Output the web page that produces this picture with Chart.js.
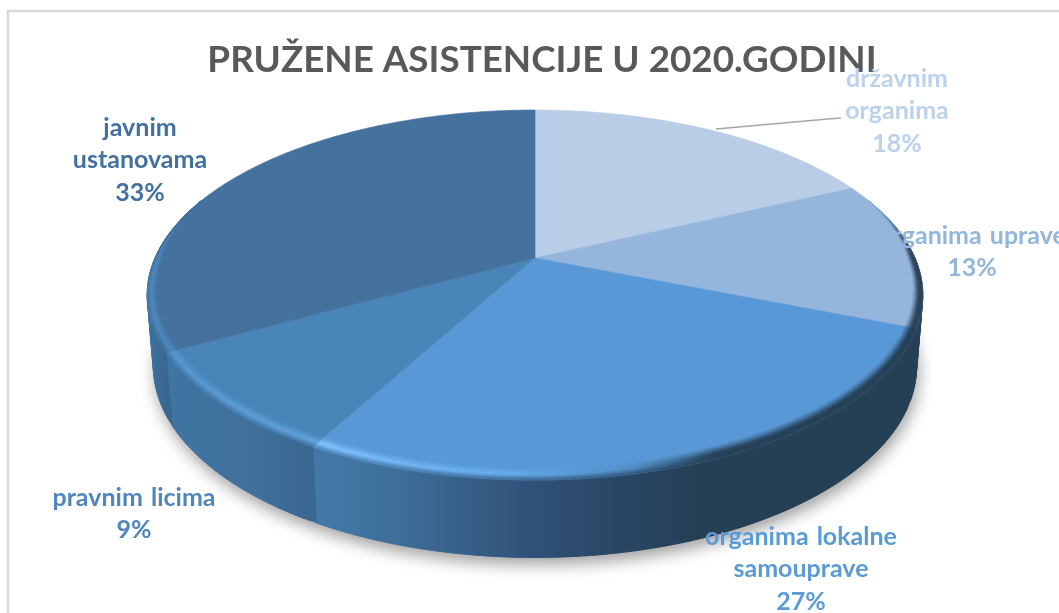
<!DOCTYPE html>
<html><head><meta charset="utf-8">
<style>html,body{margin:0;padding:0;background:#fff;overflow:hidden}canvas{display:block;filter:blur(.4px)}</style>
<script src="https://cdn.jsdelivr.net/npm/chart.js@4"></script>
</head><body><canvas id="c" width="1059" height="613"></canvas>
<script>
const titleText = 'PRUŽENE ASISTENCIJE U 2020.GODINI';
const categories = ['državnim organima','organima uprave','organima lokalne samouprave','pravnim licima','javnim ustanovama'];
const values = [18,13,27,9,33];
const faceColors = ['#bacde6','#94b5dc','#5898d6','#4a85b9','#44719e'];
const textColors = ['#bcd1ec','#93b6dd','#5b9bd5','#4f86bb','#43719f'];
const labelLines = [['državnim','organima'],['organima uprave'],['organima lokalne','samouprave'],['pravnim licima'],['javnim','ustanovama']];
const labelPos = [[897,78],[972,235],[801,536],[134,497],[140,127]];
const wallStops = [
  [[0,'#253f55'],[1059,'#253f55']],
  [[0,'#253f55'],[1059,'#253f55']],
  [[322,'#4379a8'],[400,'#3e6e99'],[535,'#305077'],[640,'#274560'],[700,'#253f55'],[930,'#253f55']],
  [[172,'#3f75a3'],[250,'#41709c'],[325,'#386590']],
  [[147,'#3f729f'],[178,'#35628a'],[300,'#35628a']]
];
const rimStops = [
  [[0,'#3a4a5c'],[1059,'#3a4a5c']],
  [[0,'#2e4257'],[1059,'#2e4257']],
  [[322,'#82c6ff'],[400,'#74b9f8'],[500,'#6ab0ef'],[580,'#5b9cd8'],[640,'#4f89bf'],[720,'#253f55'],[930,'#253f55']],
  [[172,'#5a9ad2'],[322,'#62a8e2']],
  [[147,'#5089bf'],[300,'#5089bf']]
];
// perspective projection of the pie's disc
const cx=535, cy=258, A=177.6, B=380, K=0.2;
function proj(r,t){const x=r*Math.sin(t),z=r*Math.cos(t),s=1/(1+K*z);return {x:cx+B*x*s,y:cy-A*z*s,s};}
function low(p){return {x:cx+(p.x-cx)*0.984,y:p.y+73+(p.s-1.1)*30};}
const hex=h=>[1,3,5].map(i=>parseInt(h.substr(i,2),16));
function mix(a,b,u){return a.map((v,i)=>v+(b[i]-v)*u);}
const css=c=>`rgb(${c.map(Math.round).join(',')})`;
function ramp(stops,x){
  if(x<=stops[0][0])return hex(stops[0][1]);
  for(let i=1;i<stops.length;i++) if(x<=stops[i][0]){
    const u=(x-stops[i-1][0])/(stops[i][0]-stops[i-1][0]);
    return mix(hex(stops[i-1][1]),hex(stops[i][1]),u);
  }
  return hex(stops[stops.length-1][1]);
}
function quad(ctx,p,col){
  ctx.fillStyle=ctx.strokeStyle=col;ctx.lineWidth=.5;ctx.beginPath();
  ctx.moveTo(p[0].x,p[0].y);for(let i=1;i<4;i++)ctx.lineTo(p[i].x,p[i].y);
  ctx.closePath();ctx.fill();ctx.stroke();
}
const STEP=Math.PI/360;
function rimWidth(t){const z=Math.cos(t);return z<0?0.02+0.025*(-z):Math.max(0,0.02*(1-z/0.35));}
const pie3d={
  id:'pie3d',
  beforeDraw(chart){
    const c=chart.ctx;c.save();c.strokeStyle='#d9d9d9';c.lineWidth=2.5;
    c.beginPath();c.moveTo(1059,11);c.lineTo(8,11);c.lineTo(8,613);c.stroke();c.restore();
  },
  beforeDatasetsDraw(chart){
    const c=chart.ctx,arcs=chart.getDatasetMeta(0).data;
    const slices=arcs.map(a=>({a:a.startAngle+Math.PI/2,b:a.endAngle+Math.PI/2}));
    c.save();
    // soft shadow under the base
    c.save();c.shadowColor='rgba(0,0,0,.38)';c.shadowBlur=16;c.shadowOffsetY=7;c.shadowOffsetX=2;c.fillStyle='#fff';
    c.beginPath();for(let t=0;t<=Math.PI*2;t+=STEP*2){const p=low(proj(1,t));c.lineTo(p.x,p.y);}c.closePath();c.fill();c.restore();
    // walls: overlapping quads sharing one gradient per slice
    slices.forEach((s,i)=>{
      const g=c.createLinearGradient(0,0,1059,0);
      wallStops[i].forEach(([x,col])=>g.addColorStop(x/1059,col));
      for(let t=s.a;t<s.b;t+=STEP*2){
        if(Math.cos(t)>0.25)continue;
        const e=Math.min(t+STEP*6,s.b),p=proj(1,t),q=proj(1,e);
        quad(c,[p,q,low(q),low(p)],g);
      }
    });
    // top faces
    slices.forEach((s,i)=>{
      c.fillStyle=c.strokeStyle=faceColors[i];c.lineWidth=.6;c.beginPath();c.moveTo(cx,cy);
      for(let t=s.a;t<s.b;t+=STEP){const p=proj(1,t);c.lineTo(p.x,p.y);}
      const p=proj(1,s.b);c.lineTo(p.x,p.y);c.closePath();c.fill();c.stroke();
    });
    // bevelled rim
    const N=8;
    slices.forEach((s,i)=>{
      const face=hex(faceColors[i]);
      for(let t=s.a;t<s.b;t+=STEP){
        const e=Math.min(t+STEP,s.b),w=rimWidth(t),w2=rimWidth(e);
        if(w<=0||w2<=0)continue;
        const z=Math.cos(t),fade=z>0?z/0.35:0;
        const xm=proj(1,t).x,rim=ramp(rimStops[i],xm),wall=ramp(wallStops[i],xm);
        for(let j=0;j<N;j++){
          const u=(j+.5)/N;
          const col=u<.6?mix(face,rim,u/.6):mix(rim,wall,(u-.6)/.4*.8);
          const r=k=>[1-w*(1-k),1-w2*(1-k)];
          const [r1,r2]=r(j/N),[r3,r4]=r((j+1)/N);
          quad(c,[proj(r1,t),proj(r2,e),proj(r4,e),proj(r3,t)],css(mix(col,face,fade)));
        }
      }
    });
    c.restore();
    return false;
  },
  afterDraw(chart){
    const c=chart.ctx;c.save();
    c.strokeStyle='#a6a6a6';c.lineWidth=1.6;c.beginPath();c.moveTo(716,129);c.lineTo(828,119);c.lineTo(841,118);c.stroke();
    c.font='bold 25px Lato';c.wordSpacing='2px';c.textAlign='center';c.textBaseline='middle';
    categories.forEach((n,i)=>{
      c.fillStyle=textColors[i];
      const lines=[...labelLines[i],values[i]+'%'];
      lines.forEach((l,j)=>c.fillText(l,labelPos[i][0],labelPos[i][1]+1+j*32.3));
    });
    c.restore();
  }
};
new Chart(document.getElementById('c'),{
  type:'pie',
  data:{labels:categories,datasets:[{data:values,backgroundColor:faceColors,borderWidth:0}]},
  plugins:[pie3d],
  options:{
    responsive:false,animation:false,
    layout:{padding:{left:25,top:18}},
    plugins:{
      legend:{display:false},tooltip:{enabled:false},
      title:{display:true,text:titleText,fullSize:false,color:'#595959',font:{family:'Lato',size:36.8,weight:'bold'},padding:{top:20,bottom:0}}
    }
  }
});
</script></body></html>
